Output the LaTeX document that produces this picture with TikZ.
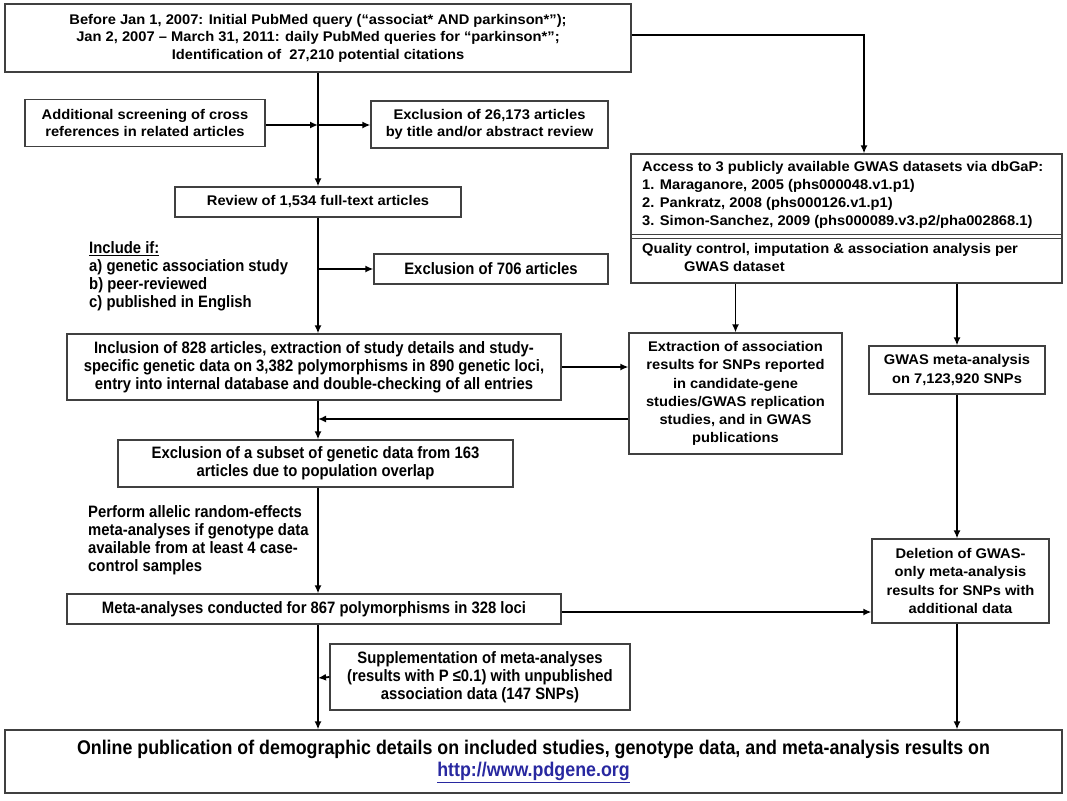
\documentclass[tikz,border=0pt]{standalone}
\usepackage{fontspec}
\setmainfont{Liberation Sans}
\newfontfamily\widefont[FakeStretch=1.05]{Liberation Sans}
\newfontfamily\narrowfont[FakeStretch=0.9]{Liberation Sans}
\usetikzlibrary{arrows.meta}
\definecolor{linkblue}{RGB}{40,40,160}
\newcommand\widebf{\widefont\fontsize{14}{17.5}\selectfont\bfseries}
\newcommand\widebfx{\widefont\fontsize{14}{18.2}\selectfont\bfseries}
\newcommand\narrowbf{\narrowfont\fontsize{16.5}{18}\selectfont\bfseries}
\newcommand\onlinebf{\narrowfont\fontsize{19.8}{22}\selectfont\bfseries}

\begin{document}
\begin{tikzpicture}[x=1pt,y=-1pt,>={Latex[length=8pt,width=7pt]},
    box/.style={draw=black!75,line width=1.2pt,inner sep=0pt,align=center,font=\widebf},
    nbox/.style={box,font=\narrowbf},
    link/.style={line width=1.8pt}]
        \useasboundingbox (0,0) rectangle (1067,800);
        % left column
        \node[box,minimum width=626,minimum height=68] (query) at (318,38){Before Jan 1, 2007: Initial PubMed query (“associat* AND parkinson*”);\\Jan 2, 2007 – March 31, 2011: daily PubMed queries for “parkinson*”;\\Identification of\ \ 27,210 potential citations};
        \node[box,minimum width=240,minimum height=47] (cross) at (145,123){Additional screening of cross\\references in related articles};
        \node[box,minimum width=237,minimum height=47] (title) at (489.5,124.5){Exclusion of 26,173 articles\\by title and/or abstract review};
        \node[box,minimum width=286,minimum height=30] (review) at (318,202){Review of 1,534 full-text articles};
        \node[align=left,anchor=north west,font=\narrowbf,inner sep=0pt] (crit) at (89,241){\underline{Include if:}\\a) genetic association study\\b) peer-reviewed\\c) published in English};
        \node[nbox,minimum width=234,minimum height=30] (excl) at (491,269){Exclusion of 706 articles};
        \node[nbox,minimum width=494,minimum height=66] (incl) at (314,367){Inclusion of 828 articles, extraction of study details and study-\\specific genetic data on 3,382 polymorphisms in 890 genetic loci,\\entry into internal database and double-checking of all entries};
        \node[nbox,minimum width=395,minimum height=47] (overlap) at (315.5,463.5){Exclusion of a subset of genetic data from 163\\articles due to population overlap};
        \node[align=left,anchor=north west,font=\narrowbf,inner sep=0pt] (rule) at (88,505){Perform allelic random-effects\\meta-analyses if genotype data\\available from at least 4 case-\\control samples};
        \node[nbox,minimum width=494,minimum height=30] (meta) at (314,609){Meta-analyses conducted for 867 polymorphisms in 328 loci};
        \node[nbox,minimum width=300,minimum height=66] (suppl) at (480,677){Supplementation of meta-analyses\\(results with P ≤0.1) with unpublished\\association data (147 SNPs)};
        \node[box,minimum width=1057,minimum height=63,font=\onlinebf] (online) at (533.5,761.5){Online publication of demographic details on included studies, genotype data, and meta-analysis results on\\\textcolor{linkblue}{\underline{http://www.pdgene.org}}};
        % right column
        \node[box,minimum width=431,minimum height=129] (gwas) at (846.5,218.5){};
        \node[anchor=north west,align=left,font=\widebfx,inner sep=0pt] (dbgap) at (642,161){Access to 3 publicly available GWAS datasets via dbGaP:\\1. Maraganore, 2005 (phs000048.v1.p1)\\2. Pankratz, 2008 (phs000126.v1.p1)\\3. Simon-Sanchez, 2009 (phs000089.v3.p2/pha002868.1)};
        \node[anchor=north west,align=left,font=\widebfx,inner sep=0pt] (qc) at (642,243){Quality control, imputation \& association analysis per\\\hspace*{42pt}GWAS dataset};
        \draw[line width=1pt,black!75] (gwas.west |- 0,234) -- (gwas.east |- 0,234) (gwas.west |- 0,238) -- (gwas.east |- 0,238);
        \node[box,minimum width=213,minimum height=121,font=\widebfx] (extr) at (735.5,393.5){Extraction of association\\results for SNPs reported\\in candidate-gene\\studies/GWAS replication\\studies, and in GWAS\\publications};
        \node[box,minimum width=176,minimum height=48,font=\widebfx] (gmeta) at (957,370){GWAS meta-analysis\\on 7,123,920 SNPs};
        \node[box,minimum width=177,minimum height=84,font=\widebfx] (del) at (960.5,581){Deletion of GWAS-\\only meta-analysis\\results for SNPs with\\additional data};
        % junctions on the main line
        \coordinate (j1) at (318,125);
        \coordinate (j2) at (318,269);
        \coordinate (j3) at (318,419);
        \coordinate (j4) at (318,678);
        \draw[link,->] (query.south) -- (review.north);
        \draw[link,->] (cross.east |- j1) -- (j1);
        \draw[link,->] (j1) -- (title.west |- j1);
        \draw[link,->] (query.east |- 0,35) -| ([xshift=17.5pt]gwas.north);
        \draw[link,->] (review.south) -- (review.south |- incl.north);
        \draw[link,->] (j2) -- (excl.west);
        \draw[link,->] (incl.east) -- (incl.east -| extr.west);
        \draw[link,->] (extr.west |- j3) -- (j3);
        \draw[link,->] (incl.south -| j3) -- (overlap.north -| j3);
        \draw[link,->] (overlap.south -| j3) -- (meta.north -| j3);
        \draw[link,->] (gwas.south -| extr.north) -- (extr.north);
        \draw[link,->] (gwas.south -| gmeta.north) -- (gmeta.north);
        \draw[link,->] (gmeta.south) -- (gmeta.south |- del.north);
        \draw[link,->] (meta.east |- 0,612) -- (del.west |- 0,612);
        \draw[link,->] (suppl.west) -- (j4);
        \draw[link,->] (meta.south -| j4) -- (online.north -| j4);
        \draw[link,->] (del.south -| gmeta.south) -- (online.north -| gmeta.south);
    \end{tikzpicture}
\end{document}
